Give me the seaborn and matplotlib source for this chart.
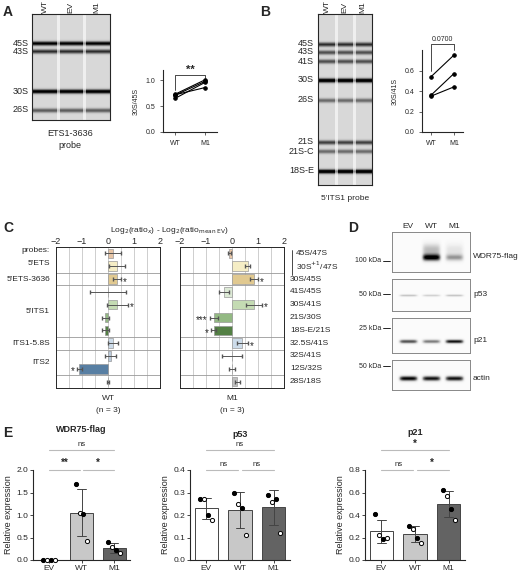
import numpy as np
import pandas as pd
import matplotlib
matplotlib.use("Agg")
import matplotlib.pyplot as plt
import seaborn as sns

sns.set_style("ticks")
plt.rcParams["font.family"] = ["Liberation Sans", "DejaVu Sans"]

W, H = 520, 575

# ---------------- data ----------------
gel_a_bands = ["45S", "43S", "30S", "26S"]
gel_a_band_y = [43, 51, 91, 110]
gel_a_band_strength = [0.75, 0.6, 0.8, 0.45]

gel_b_bands = ["45S", "43S", "41S", "30S", "26S", "21S", "21S-C", "18S-E"]
gel_b_band_y = [44, 52, 61, 80, 100, 142, 151, 171]
gel_b_band_strength = [0.6, 0.5, 0.5, 0.85, 0.4, 0.55, 0.4, 0.85]

lanes = ["WT", "EV", "M1"]

a_wt = [0.73, 0.71, 0.65, 0.72]
a_m1 = [1.01, 0.98, 0.96, 0.86]
b_wt = [0.54, 0.36, 0.35]
b_m1 = [0.75, 0.57, 0.44]

c_ratios = ["45S/47S", "30S$^{+1}$/47S", "30S/45S", "41S/45S", "30S/41S", "21S/30S",
            "18S-E/21S", "32.5S/41S", "32S/41S", "12S/32S", "28S/18S"]
c_probes = ["5'ETS", "5'ETS-3636", "5'ITS1", "ITS1-5.8S", "ITS2"]
c_probe_rows = [0.5, 2, 4.5, 7, 8.5]
c_breaks = [1.5, 2.5, 6.5, 7.5, 9.5]
c_colors = ["#f2c49b", "#fdf2bd", "#efcf82", "#dcedd3", "#c3e2ac", "#8fc27a",
            "#4e8a3a", "#c8dcef", "#b6cbe0", "#4b7fb0", "#c0c0c0"]
c_wt_mean = [0.2, 0.35, 0.35, 0.0, 0.35, -0.1, -0.1, 0.2, 0.1, -1.1, 0.0]
c_wt_err = [0.3, 0.3, 0.15, 0.7, 0.4, 0.15, 0.15, 0.2, 0.2, 0.1, 0.05]
c_wt_sig = ["", "", "*", "", "*", "", "", "", "", "*", ""]
c_m1_mean = [-0.1, 0.6, 0.85, -0.3, 0.85, -0.7, -0.7, 0.4, 0.0, 0.0, 0.2]
c_m1_err = [0.05, 0.1, 0.15, 0.2, 0.3, 0.15, 0.1, 0.2, 0.4, 0.1, 0.1]
c_m1_sig = ["", "", "*", "", "*", "***", "*", "*", "", "", ""]

blot_names = ["WDR75-flag", "p53", "p21", "actin"]
blot_top = [232, 279, 318, 360]
blot_bot = [272, 311, 353, 390]
blot_band_y = [257, 295, 341, 378]
blot_band_w = [3.5, 1.2, 2.0, 2.5]
blot_lane_strength = [[0.0, 1.0, 0.45], [0.3, 0.25, 0.3], [0.7, 0.55, 0.9], [0.95, 0.9, 0.9]]
kda_labels = ["100 kDa", "50 kDa", "25 kDa", "50 kDa"]
kda_y = [261, 294, 328, 366]

e_groups = ["EV", "WT", "M1"]
e_titles = ["WDR75-flag", "p53", "p21"]
e_values = {
    "WDR75-flag": [[0, 0, 0, 0], [1.7, 1.05, 1.03, 0.42], [0.4, 0.3, 0.22, 0.15]],
    "p53": [[0.27, 0.27, 0.2, 0.18], [0.3, 0.25, 0.23, 0.11], [0.29, 0.26, 0.27, 0.12]],
    "p21": [[0.41, 0.22, 0.19, 0.2], [0.3, 0.28, 0.2, 0.15], [0.62, 0.57, 0.45, 0.36]],
}
e_ymax = [2.0, 0.4, 0.8]
e_ticks = [[0, 0.5, 1.0, 1.5, 2.0], [0, 0.1, 0.2, 0.3, 0.4], [0, 0.2, 0.4, 0.6, 0.8]]
e_sig = [["**", "*", "ns"], ["ns", "ns", "ns"], ["ns", "*", "*"]]
e_colors = ["white", "#c8c8c8", "#636363"]

FS = 6

# ---------------- helpers ----------------
fig = plt.figure(figsize=(W / 100, H / 100), dpi=100)


def ax_at(x0, y0, x1, y1):
    return fig.add_axes([x0 / W, 1 - y1 / H, (x1 - x0) / W, (y1 - y0) / H])


def txt(x, y, s, **kw):
    kw.setdefault("fontsize", FS)
    kw.setdefault("ha", "center")
    kw.setdefault("va", "center")
    fig.text(x / W, 1 - y / H, s, **kw)


def gel(x0, y0, x1, y1, band_y, strength, nlanes=3):
    hgt, wid = int(y1 - y0), int(x1 - x0)
    img = np.full((hgt, wid), 0.25)
    ys = np.arange(hgt) + y0
    for by, st in zip(band_y, strength):
        img += st * np.exp(-((ys - by) / 2.2) ** 2)[:, None]
    lane_w = wid / nlanes
    xs = np.arange(wid)
    for k in range(1, nlanes):
        img[:, np.abs(xs - k * lane_w) < 1.2] *= 0.5
    ax = ax_at(x0, y0, x1, y1)
    ax.imshow(np.clip(img, 0, 1), cmap="Greys", vmin=0, vmax=1, aspect="auto")
    ax.set_xticks([])
    ax.set_yticks([])
    return ax


# ---------------- panel A ----------------
txt(8, 12, "A", fontsize=10, weight="bold")
gel(32, 14, 110, 120, gel_a_band_y, gel_a_band_strength)
for i, lab in enumerate(lanes):
    txt(45 + i * 26, 13, lab, rotation=90, va="bottom", fontsize=FS)
for lab, y in zip(gel_a_bands, gel_a_band_y):
    txt(29, y, lab, ha="right", fontsize=FS + 0.5)
txt(70, 134, "ETS1-3636", fontsize=FS + 0.5)
txt(70, 145, "probe", fontsize=FS + 0.5)

ax = ax_at(163, 70, 217, 132)
for w, m in zip(a_wt, a_m1):
    sns.lineplot(x=[0, 1], y=[w, m], ax=ax, color="black", lw=0.8, marker="o", ms=2.5, mec="black")
ax.set_xlim(-0.4, 1.4)
ax.set_ylim(0, 1.2)
ax.set_yticks([0, 0.5, 1.0])
ax.set_yticklabels(["0.0", "0.5", "1.0"])
ax.set_xticks([0, 1])
ax.set_xticklabels(["WT", "M1"])
ax.set_ylabel("30S/45S", fontsize=5)
ax.tick_params(labelsize=5, length=2, width=0.5)
sns.despine(ax=ax)
ax.plot([0, 0, 1, 1], [0.82, 1.1, 1.1, 1.05], color="black", lw=0.5)
ax.text(0.5, 1.1, "**", ha="center", va="bottom", fontsize=8, weight="bold")

# ---------------- panel B ----------------
txt(265, 12, "B", fontsize=10, weight="bold")
gel(318, 14, 372, 185, gel_b_band_y, gel_b_band_strength)
for i, lab in enumerate(lanes):
    txt(327 + i * 18, 13, lab, rotation=90, va="bottom", fontsize=FS)
for lab, y in zip(gel_b_bands, gel_b_band_y):
    txt(314, y, lab, ha="right", fontsize=FS + 0.5)
txt(345, 199, "5'ITS1 probe", fontsize=FS)

ax = ax_at(422, 50, 463, 132)
for w, m in zip(b_wt, b_m1):
    sns.lineplot(x=[0, 1], y=[w, m], ax=ax, color="black", lw=0.8, marker="o", ms=2.5, mec="black")
ax.set_xlim(-0.4, 1.4)
ax.set_ylim(0, 0.8)
ax.set_yticks([0, 0.2, 0.4, 0.6])
ax.set_yticklabels(["0.0", "0.2", "0.4", "0.6"])
ax.set_xticks([0, 1])
ax.set_xticklabels(["WT", "M1"])
ax.set_ylabel("30S/41S", fontsize=5)
ax.tick_params(labelsize=5, length=2, width=0.5)
sns.despine(ax=ax)
ax.plot([0, 0, 1, 1], [0.6, 0.86, 0.86, 0.8], color="black", lw=0.5, clip_on=False)
ax.text(0.5, 0.87, "0.0700", ha="center", va="bottom", fontsize=5)

# ---------------- panel C ----------------
txt(8, 228, "C", fontsize=10, weight="bold")
txt(170, 230, r"Log$_2$(ratio$_x$) - Log$_2$(ratio$_{\rm mean\ EV}$)", fontsize=FS)
rows = np.arange(len(c_ratios))
for (x0, x1), means, errs, sigs, name in [((56, 160), c_wt_mean, c_wt_err, c_wt_sig, "WT"),
                                          ((180, 284), c_m1_mean, c_m1_err, c_m1_sig, "M1")]:
    ax = ax_at(x0, 247, x1, 388)
    df = pd.DataFrame({"row": rows, "val": means, "err": errs})
    sns.barplot(data=df, x="val", y="row", orient="h", hue="row", palette=c_colors,
                legend=False, ax=ax, width=0.75, edgecolor="#999999", linewidth=0.5)
    ax.errorbar(means, rows, xerr=errs, fmt="none", ecolor="#555555", elinewidth=0.7, capsize=1.2)
    for r, (m, e, s) in enumerate(zip(means, errs, sigs)):
        if s:
            if m >= 0:
                ax.text(m + e + 0.08, r + 0.2, s, ha="left", va="center", fontsize=7)
            else:
                ax.text(m - e - 0.08, r + 0.2, s, ha="right", va="center", fontsize=7)
    ax.set_xlim(-2, 2)
    ax.set_ylim(len(rows) - 0.5, -0.5)
    for gx in np.arange(-1.5, 2, 0.5):
        ax.axvline(gx, color="#bbbbbb", lw=0.5, zorder=0)
    for b in c_breaks:
        ax.axhline(b, color="#999999", lw=0.6, zorder=0)
    ax.xaxis.tick_top()
    ax.set_xticks([-2, -1, 0, 1, 2])
    ax.tick_params(axis="x", labelsize=FS + 0.5, length=0, pad=1)
    ax.set_yticks([])
    ax.set_xlabel("")
    ax.set_ylabel("")
    for sp in ax.spines.values():
        sp.set_linewidth(0.7)
    txt((x0 + x1) / 2, 398, name, fontsize=FS)
    txt((x0 + x1) / 2, 410, "(n = 3)", fontsize=FS)

row_px = lambda r: 247 + (r + 0.5) * (141 / len(c_ratios))
txt(50, row_px(-0.2), "probes:", ha="right", fontsize=FS)
for lab, r in zip(c_probes, c_probe_rows):
    yy = row_px(r + 0.3) if lab == "5'ETS" else row_px(r)
    txt(50, yy, lab, ha="right", fontsize=FS)
for r, lab in enumerate(c_ratios):
    xx = 296 if r < 2 else 290
    txt(xx, row_px(r), lab, ha="left", fontsize=FS)
fig.add_artist(plt.Line2D([292 / W, 292 / W], [1 - 250 / H, 1 - 275 / H], color="black", lw=0.5))

# ---------------- panel D ----------------
txt(353, 228, "D", fontsize=10, weight="bold")
lane_off = [16, 39, 62]
for lab, off in zip(["EV", "WT", "M1"], lane_off):
    txt(392 + off, 226, lab, fontsize=FS)
for name, t, b, by, bw, st in zip(blot_names, blot_top, blot_bot, blot_band_y, blot_band_w,
                                  blot_lane_strength):
    hgt, wid = b - t, 78
    ys = np.arange(hgt) + t
    xs = np.arange(wid)
    img = np.full((hgt, wid), 0.03)
    for off, s in zip(lane_off, st):
        prof = np.exp(-((xs - off) / 9) ** 6)
        band = np.exp(-((ys - by) / bw) ** 2)
        if name == "WDR75-flag":
            band = band + 0.35 * np.exp(-((ys - by + 8) / 6) ** 2)
        img += s * band[:, None] * prof[None, :]
    ax = ax_at(392, t, 470, b)
    ax.imshow(np.clip(img, 0, 1), cmap="Greys", vmin=0, vmax=1, aspect="auto")
    ax.set_xticks([])
    ax.set_yticks([])
    for sp in ax.spines.values():
        sp.set_color("#888888")
        sp.set_linewidth(0.7)
    txt(473, by, name, ha="left", fontsize=FS)
for lab, y in zip(kda_labels, kda_y):
    txt(381, y, lab, ha="right", fontsize=5)
    fig.add_artist(plt.Line2D([383 / W, 390 / W], [1 - y / H, 1 - y / H], color="black", lw=0.6))

# ---------------- panel E ----------------
txt(8, 433, "E", fontsize=10, weight="bold")
e_x = [(33, 130), (190, 290), (365, 465)]
title_pad = [27, 24, 25]
for k, title in enumerate(e_titles):
    x0, x1 = e_x[k]
    ax = ax_at(x0, 470, x1, 560)
    vals = e_values[title]
    df = pd.DataFrame([(g, v, j) for g, vs in zip(e_groups, vals) for j, v in enumerate(vs)],
                      columns=["group", "value", "rep"])
    sns.barplot(data=df, x="group", y="value", hue="group", palette=e_colors, legend=False,
                errorbar="sd", capsize=0.25, err_kws={"linewidth": 0.7, "color": "#444444"},
                edgecolor="#444444", linewidth=0.7, width=0.7, ax=ax)
    for gi, vs in enumerate(vals):
        for j, v in enumerate(vs):
            xoff = gi + (j - 1.5) * 0.12
            fc = "black" if j % 2 == 0 else "white"
            ax.plot(xoff, v, "o", ms=3, mfc=fc, mec="black", mew=0.7, clip_on=False, zorder=5)
    ym = e_ymax[k]
    ax.set_ylim(0, ym)
    ax.set_yticks(e_ticks[k])
    ax.set_yticklabels([f"{t:.1f}" for t in e_ticks[k]])
    ax.set_xlabel("")
    ax.set_ylabel("Relative expression", fontsize=FS + 0.5, labelpad=2)
    ax.tick_params(labelsize=FS, length=2, width=0.6, pad=1.5)
    sns.despine(ax=ax)
    s1, s2, s3 = e_sig[k]
    lw = dict(color="#bbbbbb", lw=0.8, clip_on=False)
    ax.plot([0, 0.95], [ym, ym], **lw)
    ax.plot([1.05, 2], [ym, ym], **lw)
    ax.plot([0, 2], [ym * 1.22, ym * 1.22], **lw)
    for xx, yy, s in [(0.5, ym, s1), (1.5, ym, s2), (1, ym * 1.22, s3)]:
        ax.text(xx, yy + ym * 0.02, s, ha="center", va="bottom",
                fontsize=5.5 if s == "ns" else 7, weight="normal" if s == "ns" else "bold")
    ax.set_title(title, fontsize=FS + 0.5, weight="bold", pad=title_pad[k])

fig.savefig("out.png", dpi=100)
